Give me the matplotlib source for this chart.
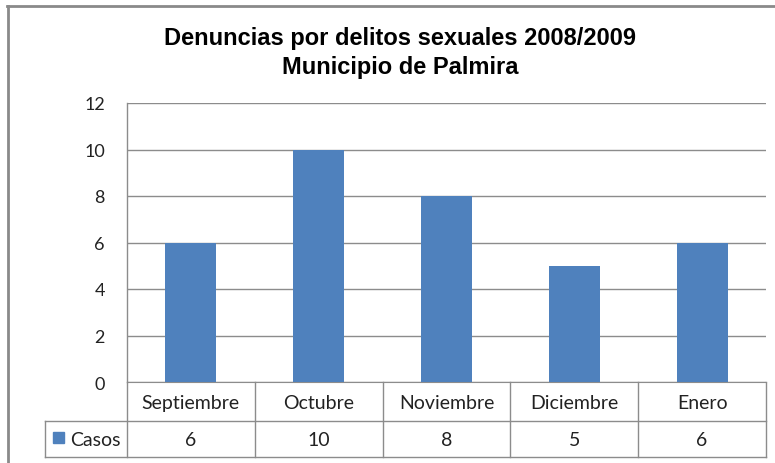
import matplotlib
matplotlib.use("Agg")
import matplotlib.pyplot as plt
from matplotlib.lines import Line2D
from matplotlib.patches import Rectangle
import matplotlib.transforms as mtransforms

categories = ["Septiembre", "Octubre", "Noviembre", "Diciembre", "Enero"]
casos = [6, 10, 8, 5, 6]
series_name = "Casos"
yticks = [0, 2, 4, 6, 8, 10, 12]
title = "Denuncias por delitos sexuales 2008/2009\nMunicipio de Palmira"

W, H = 775, 464
fig = plt.figure(figsize=(W / 100, H / 100), dpi=100)

def fx(px):
    return px / W

def fy(py):
    return 1 - py / H

BAR = "#4F81BD"
GRID = "#8C8C8C"
FRAME = "#8A8A8A"
TXT = "#222222"
body_font = ["Lato", "DejaVu Sans"]

L, R, T, B = 127, 766, 104, 383
ax = fig.add_axes([fx(L), fy(B), fx(R) - fx(L), fy(T) - fy(B)])
x = list(range(len(categories)))
ax.bar(x, casos, width=0.4, color=BAR, zorder=3)
ax.set_xlim(-0.5, len(categories) - 0.5)
ax.set_ylim(0, 12)
ax.set_yticks(yticks)
ax.set_yticklabels([str(v) for v in yticks], fontsize=13, family=body_font, color=TXT)
ax.tick_params(axis="y", length=0, pad=16)
ax.set_xticks([])
ax.grid(axis="y", color=GRID, linewidth=1, zorder=0)
for s in ["top", "right"]:
    ax.spines[s].set_visible(False)
ax.spines["left"].set_color(GRID)
ax.spines["left"].set_linewidth(1)
ax.spines["bottom"].set_color(GRID)

# Title
fig.text(fx(400), fy(53), title, ha="center", va="center",
         fontsize=17, fontweight="bold", family=["Liberation Sans", "DejaVu Sans"],
         color="black", linespacing=1.35)

# Data table
row1_top, row_mid, row_bot = 383, 422, 458
leg_left = 45
def hline(y, x0, x1):
    fig.add_artist(Line2D([fx(x0), fx(x1)], [fy(y), fy(y)], color=GRID, lw=1))
def vline(xp, y0, y1):
    fig.add_artist(Line2D([fx(xp), fx(xp)], [fy(y0), fy(y1)], color=GRID, lw=1))

hline(row_mid, leg_left, R)
hline(row_bot, leg_left, R)
vline(leg_left, row_mid, row_bot)
vline(R, row1_top, row_bot)
vline(L, row1_top, row_bot)
n = len(categories)
for i in range(1, n):
    xp = L + (R - L) * i / n
    vline(xp, row1_top, row_bot)

blend = mtransforms.blended_transform_factory(ax.transData, fig.transFigure)
for i, (c, v) in enumerate(zip(categories, casos)):
    ax.text(i, fy((row1_top + row_mid) / 2 + 1), c, transform=blend, ha="center", va="center",
            fontsize=14, family=body_font, color=TXT, clip_on=False)
    ax.text(i, fy((row_mid + row_bot) / 2 + 1), str(v), transform=blend, ha="center", va="center",
            fontsize=14, family=body_font, color=TXT, clip_on=False)

# legend key in table
fig.add_artist(Rectangle((fx(53), fy(444)), fx(11), fy(433) - fy(444), color=BAR,
                         transform=fig.transFigure))
fig.text(fx(70), fy((row_mid + row_bot) / 2 + 1), series_name, ha="left", va="center",
         fontsize=14, family=body_font, color=TXT)

# outer chart frame
fig.add_artist(Line2D([fx(7), 1], [fy(7), fy(7)], color=FRAME, lw=2))
fig.add_artist(Line2D([fx(8), fx(8)], [fy(7), 0], color=FRAME, lw=2))

fig.savefig("out.png", dpi=100)
